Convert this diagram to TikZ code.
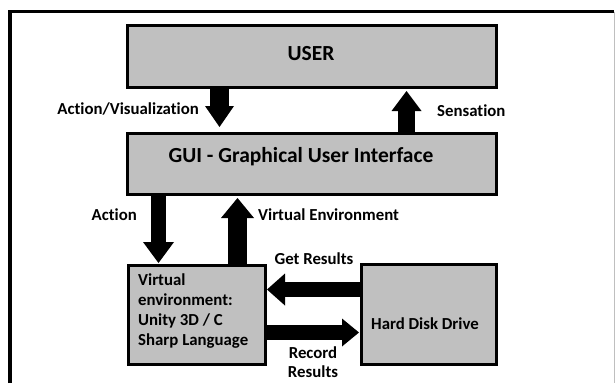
\documentclass[tikz,border=0pt]{standalone}
\usepackage{fontspec}
\setmainfont{Carlito}[Ligatures={NoCommon}]
\usetikzlibrary{arrows.meta}
\definecolor{boxgray}{RGB}{192,192,192}
\begin{document}
\begin{tikzpicture}[x=1pt,y=-1pt,
  box/.style={draw=black, line width=3pt, fill=boxgray, inner sep=0pt},
  lbl/.style={font=\bfseries\fontsize{16.8}{19.5}\selectfont, inner sep=0pt},
  blk/.style={line width=17pt, -{Triangle[length=20pt,width=30pt,line width=0pt]}}
]
\useasboundingbox (0,0) rectangle (615,383);
% outer frame
\draw[line width=3.5pt] (10,383) -- (10,11.5) -- (614,11.5);
\draw[gray!50, line width=1pt] (614,11.5) -- (614,383);

% boxes
\node[box, minimum width=369pt, minimum height=62pt] (user) at (312,56.5) {};
\node[box, minimum width=369pt, minimum height=61pt] (gui) at (312,164) {};
\node[box, minimum width=137pt, minimum height=99pt] (ve) at (197,315) {};
\node[box, minimum width=135pt, minimum height=100pt] (hdd) at (429,314.5) {};

% box texts
\node[font=\bfseries\fontsize{21.5}{24}\selectfont, inner sep=0pt] (usertxt) at (311,54) {USER};
\node[font=\bfseries\fontsize{21.5}{24}\selectfont, inner sep=0pt] (guitxt) at (301,157) {GUI - Graphical User Interface};
\node[lbl, font=\bfseries\fontsize{16.8}{20}\selectfont, align=left, anchor=west] (vetxt) at (138,311) {Virtual\\environment:\\Unity 3D / C\\Sharp Language};
\node[lbl] (hddtxt) at (425,324) {Hard Disk Drive};

% arrow positions
\coordinate (xav) at (219.5,0);
\coordinate (xsen) at (406.5,0);
\coordinate (xact) at (158.5,0);
\coordinate (xve) at (237.5,0);
\coordinate (yget) at (0,289.5);
\coordinate (yrec) at (0,332.5);

\draw[blk, line width=19pt, -{Triangle[length=21pt,width=29pt,line width=0pt]}, shorten >=5pt] (user.south -| xav) -- (gui.north -| xav);
\draw[blk, shorten >=2pt] (gui.north -| xsen) -- (user.south -| xsen);
\draw[blk, line width=15pt, -{Triangle[length=21pt,width=31pt,line width=0pt]}, shorten >=1pt] (gui.south -| xact) -- (ve.north -| xact);
\draw[blk, line width=19pt, -{Triangle[length=20pt,width=33pt,line width=0pt]}, shorten >=2pt] (ve.north -| xve) -- (gui.south -| xve);
\draw[blk, line width=15pt, -{Triangle[length=18pt,width=32pt,line width=0pt]}] (hdd.west |- yget) -- (ve.east |- yget);
\draw[blk, line width=15pt, -{Triangle[length=17pt,width=28pt,line width=0pt]}, shorten >=1pt] (ve.east |- yrec) -- (hdd.west |- yrec);

% arrow labels
\node[lbl, anchor=east] (lav) at (199,109) {Action/Visualization};
\node[lbl, anchor=west] (lsen) at (437,111) {Sensation};
\node[lbl, anchor=east] (lact) at (137,215) {Action};
\node[lbl, anchor=west] (lve) at (258,215) {Virtual Environment};
\node[lbl] (lget) at (314,259) {Get Results};
\node[lbl, align=center] (lrec) at (313,362) {Record\\Results};
\end{tikzpicture}
\end{document}
